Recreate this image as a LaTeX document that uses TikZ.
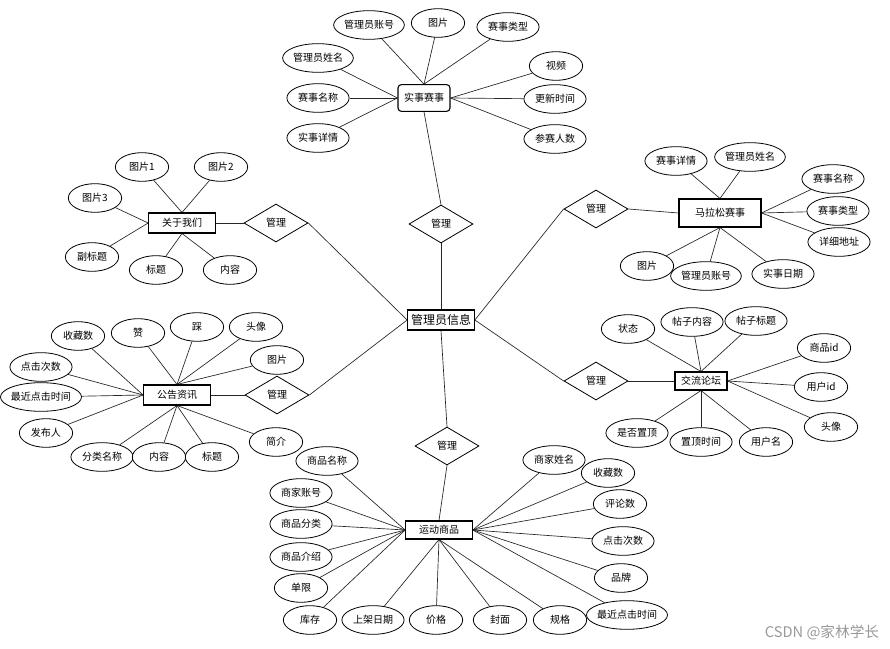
\documentclass[tikz,border=0pt]{standalone}
\usepackage{fontspec}
\setmainfont{Noto Sans CJK SC}
\usepackage{tikz}
\usetikzlibrary{shapes.geometric}
\pgfdeclarelayer{bg}
\pgfsetlayers{bg,main}
\tikzset{
  entity/.style={
    draw=black,
    fill=white,
    line width=0.8pt,
    inner sep=0pt,
    minimum width=50pt,
    minimum height=15pt,
    font=\fontsize{7.5}{9}\selectfont
  },
  attr/.style={
    ellipse,
    draw=black,
    fill=white,
    line width=0.6pt,
    inner xsep=1.5pt,
    inner ysep=0pt,
    minimum width=40pt,
    minimum height=21.5pt,
    font=\fontsize{7.5}{9}\selectfont
  },
  longattr/.style={attr, inner xsep=0pt},
  widestattr/.style={attr, inner xsep=-1pt},
  relation/.style={
    diamond,
    draw=black,
    fill=white,
    line width=0.6pt,
    inner sep=0pt,
    minimum width=48pt,
    minimum height=28.5pt,
    font=\fontsize{7.5}{9}\selectfont
  },
  link/.style={
    line width=0.5pt,
    draw=black!85
  }
}

\begin{document}
\begin{tikzpicture}[x=0.75pt, y=-0.75pt]
\useasboundingbox (0,0) rectangle (890,649);

% central entity
\node[entity, minimum width=50pt, font=\fontsize{9}{11}\selectfont] (admin) at (441,320) {管理员信息};

% relations
\node[relation] (mgEvent) at (441,224) {管理};
\node[relation] (mgMarathon) at (596,209) {管理};
\node[relation] (mgAbout) at (276,223) {管理};
\node[relation] (mgNotice) at (277,395) {管理};
\node[relation] (mgForum) at (596,381) {管理};
\node[relation] (mgGoods) at (447,446) {管理};

% 实事赛事
\node[entity, rounded corners=2.5pt, minimum width=39pt, minimum height=20pt] (event) at (424,98) {实事赛事};
\node[longattr] (evAccount) at (369,25) {管理员账号};
\node[attr] (evPic) at (438,23) {图片};
\node[attr] (evType) at (508,27) {赛事类型};
\node[longattr] (evAdmin) at (318,58) {管理员姓名};
\node[attr] (evName) at (318,98) {赛事名称};
\node[attr] (evDetail) at (318,138) {实事详情};
\node[attr] (evVideo) at (556,66) {视频};
\node[attr] (evUpdate) at (555,99) {更新时间};
\node[attr] (evPlayers) at (555,139) {参赛人数};

% 马拉松赛事
\node[entity, minimum width=61.5pt, minimum height=21pt] (marathon) at (720,213) {马拉松赛事};
\node[attr] (mrDetail) at (676,161) {赛事详情};
\node[longattr] (mrAdmin) at (750,157) {管理员姓名};
\node[attr] (mrName) at (833,179) {赛事名称};
\node[attr] (mrType) at (838,211) {赛事类型};
\node[attr] (mrAddr) at (839,242) {详细地址};
\node[attr] (mrPic) at (647,266) {图片};
\node[longattr] (mrAccount) at (706,276) {管理员账号};
\node[attr] (mrDate) at (783,274) {实事日期};

% 关于我们
\node[entity] (about) at (182,223) {关于我们};
\node[attr] (abPic1) at (142,167) {图片1};
\node[attr] (abPic2) at (221,167) {图片2};
\node[attr] (abPic3) at (95,198) {图片3};
\node[attr] (abSub) at (92,257) {副标题};
\node[attr] (abTitle) at (156,270) {标题};
\node[attr] (abBody) at (230,270) {内容};

% 公告资讯
\node[entity] (notice) at (177,395) {公告资讯};
\node[attr] (ntFav) at (78,336) {收藏数};
\node[attr] (ntLike) at (138,333) {赞};
\node[attr] (ntDislike) at (197,327) {踩};
\node[attr] (ntAvatar) at (256,327) {头像};
\node[attr] (ntPic) at (277,360) {图片};
\node[attr] (ntClicks) at (41,367) {点击次数};
\node[widestattr] (ntLast) at (41,397) {最近点击时间};
\node[attr] (ntAuthor) at (46,433) {发布人};
\node[attr] (ntCat) at (102,457) {分类名称};
\node[attr] (ntBody) at (159,457) {内容};
\node[attr] (ntTitle) at (212,457) {标题};
\node[attr] (ntIntro) at (276,442) {简介};

% 交流论坛
\node[entity, minimum width=39pt, minimum height=13.5pt] (forum) at (701,381) {交流论坛};
\node[attr] (fmState) at (628,329) {状态};
\node[attr] (fmBody) at (692,322) {帖子内容};
\node[attr] (fmTitle) at (756,321) {帖子标题};
\node[attr] (fmGoods) at (824,348) {商品id};
\node[attr] (fmUser) at (821,387) {用户id};
\node[attr] (fmAvatar) at (831,427) {头像};
\node[attr] (fmTop) at (637,433) {是否置顶};
\node[attr] (fmTopTime) at (701,442) {置顶时间};
\node[attr] (fmName) at (766,442) {用户名};

% 运动商品
\node[entity, minimum height=13.5pt] (goods) at (439,530) {运动商品};
\node[attr] (gdName) at (327,461) {商品名称};
\node[attr] (gdAccount) at (301,493) {商家账号};
\node[attr] (gdCat) at (301,524) {商品分类};
\node[attr] (gdIntro) at (301,557) {商品介绍};
\node[attr] (gdLimit) at (301,588) {单限};
\node[attr] (gdStock) at (310,620) {库存};
\node[attr] (gdDate) at (373,620) {上架日期};
\node[attr] (gdPrice) at (436,620) {价格};
\node[attr] (gdCover) at (500,620) {封面};
\node[attr] (gdSpec) at (560,620) {规格};
\node[attr] (gdSeller) at (554,460) {商家姓名};
\node[attr] (gdFav) at (608,473) {收藏数};
\node[attr] (gdComment) at (620,504) {评论数};
\node[attr] (gdClicks) at (623,541) {点击次数};
\node[attr] (gdBrand) at (621,578) {品牌};
\node[widestattr] (gdLast) at (627,615) {最近点击时间};

\node[text=black!40, font=\fontsize{11}{13}\selectfont] (mark) at (822,633) {CSDN @家林学长};

\begin{pgfonlayer}{bg}
\fill[white] (0,0) rectangle (890,649);
% relations to entities
\draw[link] (event.south) -- (mgEvent.north);
\draw[link] (mgEvent.south) -- (admin.north);
\draw[link] (admin.east) -- (mgMarathon.west);
\draw[link] (mgMarathon.east) -- (marathon.west);
\draw[link] (about.east) -- (mgAbout.west);
\draw[link] (mgAbout.east) -- (admin.west);
\draw[link] (notice.east) -- (mgNotice.west);
\draw[link] (mgNotice.east) -- (admin.west);
\draw[link] (admin.east) -- (mgForum.west);
\draw[link] (mgForum.east) -- (forum.west);
\draw[link] (admin.south) -- (mgGoods.north);
\draw[link] (mgGoods.south) -- (goods.north);
% 实事赛事
\draw[link] (event.north) -- (evAccount);
\draw[link] (event.north) -- (evPic);
\draw[link] (event.north) -- (evType);
\draw[link] (event.west) -- (evAdmin);
\draw[link] (event.west) -- (evName);
\draw[link] (event.west) -- (evDetail);
\draw[link] (event.east) -- (evVideo);
\draw[link] (event.east) -- (evUpdate);
\draw[link] (event.east) -- (evPlayers);
% 马拉松赛事
\draw[link] (marathon.north) -- (mrDetail);
\draw[link] (marathon.north) -- (mrAdmin);
\draw[link] (marathon.east) -- (mrName);
\draw[link] (marathon.east) -- (mrType);
\draw[link] (marathon.east) -- (mrAddr);
\draw[link] (marathon.south) -- (mrPic);
\draw[link] (marathon.south) -- (mrAccount);
\draw[link] (marathon.south) -- (mrDate);
% 关于我们
\draw[link] (about.north) -- (abPic1);
\draw[link] (about.north) -- (abPic2);
\draw[link] (about.west) -- (abPic3);
\draw[link] (about.west) -- (abSub);
\draw[link] (about.south) -- (abTitle);
\draw[link] (about.south) -- (abBody);
% 公告资讯
\draw[link] (notice.west) -- (ntFav);
\draw[link] (notice.north) -- (ntLike);
\draw[link] (notice.north) -- (ntDislike);
\draw[link] (notice.north) -- (ntAvatar);
\draw[link] (notice.north) -- (ntPic);
\draw[link] (notice.west) -- (ntClicks);
\draw[link] (notice.west) -- (ntLast);
\draw[link] (notice.west) -- (ntAuthor);
\draw[link] (notice.south) -- (ntCat);
\draw[link] (notice.south) -- (ntBody);
\draw[link] (notice.south) -- (ntTitle);
\draw[link] (notice.south) -- (ntIntro);
% 交流论坛
\draw[link] (forum.north) -- (fmState);
\draw[link] (forum.north) -- (fmBody);
\draw[link] (forum.north) -- (fmTitle);
\draw[link] (forum.east) -- (fmGoods);
\draw[link] (forum.east) -- (fmUser);
\draw[link] (forum.east) -- (fmAvatar);
\draw[link] (forum.south) -- (fmTop);
\draw[link] (forum.south) -- (fmTopTime);
\draw[link] (forum.south) -- (fmName);
% 运动商品
\draw[link] (goods.west) -- (gdName);
\draw[link] (goods.west) -- (gdAccount);
\draw[link] (goods.west) -- (gdCat);
\draw[link] (goods.west) -- (gdIntro);
\draw[link] (goods.west) -- (gdLimit);
\draw[link] (goods.west) -- (gdStock);
\draw[link] (goods.south) -- (gdDate);
\draw[link] (goods.south) -- (gdPrice);
\draw[link] (goods.south) -- (gdCover);
\draw[link] (goods.south) -- (gdSpec);
\draw[link] (goods.east) -- (gdSeller);
\draw[link] (goods.east) -- (gdFav);
\draw[link] (goods.east) -- (gdComment);
\draw[link] (goods.east) -- (gdClicks);
\draw[link] (goods.east) -- (gdBrand);
\draw[link] (goods.east) -- (gdLast);
\end{pgfonlayer}
\end{tikzpicture}
\end{document}
